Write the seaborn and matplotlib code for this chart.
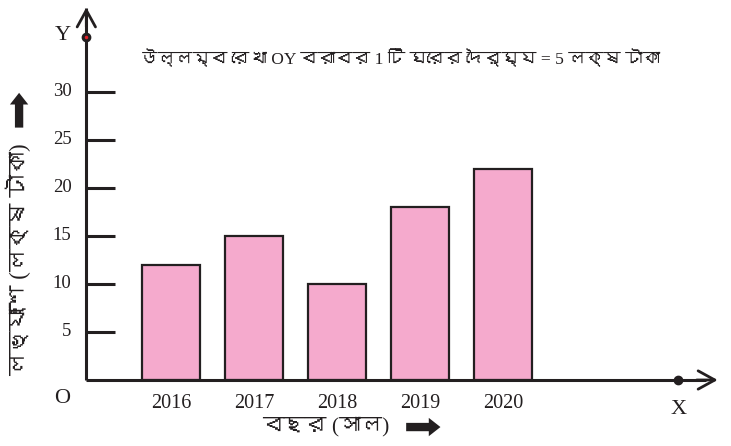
import matplotlib
matplotlib.use("Agg")
import matplotlib.pyplot as plt
import seaborn as sns
import pandas as pd
from matplotlib import font_manager
from fontTools.ttLib import TTFont

# data
years = ["2016", "2017", "2018", "2019", "2020"]
profits = [12, 15, 10, 18, 22]
y_ticks = [5, 10, 15, 20, 25, 30]

title_text = "উল্লম্ব রেখা OY বরাবর 1 টি ঘরের দৈর্ঘ্য = 5 লক্ষ টাকা"
x_label = "বছর (সাল)"
y_label = "লভ্যাংশ (লক্ষ টাকা)"


# find a font that has bengali glyphs
def find_bengali():
    for f in font_manager.fontManager.ttflist:
        try:
            tt = TTFont(f.fname, fontNumber=0, lazy=True)
            if 0x09AC in tt.getBestCmap():
                return f.name
        except Exception:
            continue
    return None

beng = find_bengali()
fams = ["Liberation Serif"] + ([beng] if beng else []) + ["DejaVu Sans"]

sns.set_theme(style="white")
plt.rcParams["font.family"] = fams

df = pd.DataFrame({"year": years, "profit": profits})

fig = plt.figure(figsize=(7.31, 4.46), dpi=100)
ax = fig.add_axes([0, 0, 1, 1])
sns.barplot(data=df, x="year", y="profit", color="#F5AACD", saturation=1,
            edgecolor="#231F20", linewidth=1.6, width=0.69, ax=ax)
ax.axis("off")
ax.set_xlim(-2.06, 6.747)
ax.set_ylim(-6.875, 39.58)

ink = "#231F20"
x0 = -1.02

# axes with open arrow heads
ax.plot([x0, 6.45], [0, 0], color=ink, lw=2.2, solid_capstyle="butt", zorder=3)
ax.plot([x0, x0], [0, 38.7], color=ink, lw=2.2, solid_capstyle="butt", zorder=3)
ax.annotate("", xy=(6.62, 0), xytext=(6.3, 0),
            arrowprops=dict(arrowstyle="->,head_length=1.0,head_width=0.55", color=ink, lw=2))
ax.annotate("", xy=(x0, 39.1), xytext=(x0, 36.5),
            arrowprops=dict(arrowstyle="->,head_length=1.0,head_width=0.55", color=ink, lw=2))

# dots on axes
ax.plot([6.11], [0], "o", color=ink, ms=6, zorder=4)
ax.plot([x0], [35.7], "o", color=ink, ms=6, zorder=4)
ax.plot([x0], [35.7], "o", color="#E0202A", ms=1.5, zorder=5)

# y ticks
ax.hlines(y_ticks, x0, -0.675, color=ink, lw=2.2)
for t in y_ticks:
    ax.text(-1.2, t, str(t), ha="right", va="center", fontsize=13.5, color=ink)

# year labels
for i, yr in enumerate(years):
    ax.text(i, -2.4, yr, ha="center", va="center", fontsize=14.5, color=ink)

ax.text(-1.31, -1.9, "O", ha="center", va="center", fontsize=16, color=ink)
ax.text(6.11, -3.1, "X", ha="center", va="center", fontsize=16, color=ink)
ax.text(-1.3, 35.9, "Y", ha="center", va="center", fontsize=16, color=ink)

ax.text(2.76, 33.5, title_text, ha="center", va="center", fontsize=12.6, color=ink)

# axis labels with thick arrows
ax.text(1.86, -4.9, x_label, ha="center", va="center", fontsize=15.5, color=ink)
ax.annotate("", xy=(3.28, -4.9), xytext=(2.8, -4.9),
            arrowprops=dict(arrowstyle="simple,head_length=0.7,head_width=1.1,tail_width=0.5",
                            color=ink, lw=0))
ax.text(-1.84, 12.5, y_label, ha="center", va="center", rotation=90, fontsize=16.5, color=ink)
ax.annotate("", xy=(-1.83, 30.2), xytext=(-1.83, 26.0),
            arrowprops=dict(arrowstyle="simple,head_length=0.7,head_width=1.1,tail_width=0.5",
                            color=ink, lw=0))

fig.savefig("out.png", dpi=100)
